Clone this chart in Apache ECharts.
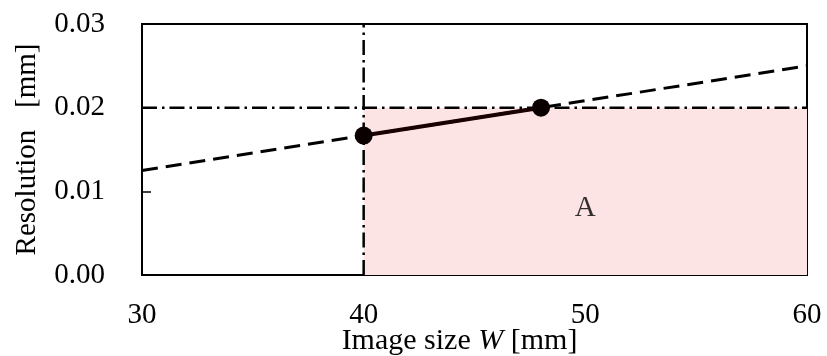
<!DOCTYPE html>
<html>
<head>
<meta charset="utf-8">
<script src="https://cdn.jsdelivr.net/npm/echarts@6/dist/echarts.min.js"></script>
<style>
  html, body { margin: 0; padding: 0; background: #fff; }
  #chart { width: 827px; height: 356px; }
</style>
</head>
<body>
<div id="chart"></div>
<script>
// resolution vs. image size
const trendW = [30, 60];            // dashed line: resolution = W / 2400
const trendRes = [0.0125, 0.025];
const rangeW = [40, 48];            // solid segment with end points
const rangeRes = [0.01667, 0.02];
const limitW = 40;                  // vertical dash-dot limit
const limitRes = 0.02;              // horizontal dash-dot limit
const areaW = [40, 60];             // shaded region A
const areaRes = [0.02, 0.02];
const labelA = [50, 0.008];
const xTicks = [30, 40, 50, 60];
const yTicks = [0, 0.01, 0.02, 0.03];

const FONT = '"Liberation Serif", "Times New Roman", serif';
const BLACK = '#000';

const pairs = (xs, ys) => xs.map((x, i) => [x, ys[i]]);

const chart = echarts.init(document.getElementById('chart'));
chart.setOption({
  animation: false,
  backgroundColor: '#fff',
  grid: {
    left: 142, right: 20, top: 24, bottom: 81,
    outerBoundsMode: 'none',
    containLabel: false,
    show: true, borderColor: BLACK, borderWidth: 2, backgroundColor: 'transparent'
  },
  xAxis: {
    type: 'value',
    min: xTicks[0], max: xTicks[xTicks.length - 1], interval: 10,
    name: 'Image size {i|W} [mm]',
    nameLocation: 'middle',
    nameGap: 51,
    nameMoveOverlap: false,
    nameTextStyle: {
      fontFamily: FONT, fontSize: 30, color: BLACK, padding: [0, 30, 0, 0],
      rich: { i: { fontFamily: FONT, fontSize: 30, fontStyle: 'italic', color: BLACK } }
    },
    axisLine: { lineStyle: { color: BLACK, width: 2 } },
    axisTick: { inside: true, length: 8, lineStyle: { color: BLACK, width: 1.5 } },
    axisLabel: { margin: 26, fontFamily: FONT, fontSize: 29, color: BLACK },
    splitLine: { show: false }
  },
  yAxis: {
    type: 'value',
    min: yTicks[0], max: yTicks[yTicks.length - 1], interval: 0.01,
    name: 'Resolution   [mm]',
    nameLocation: 'middle',
    nameGap: 100,
    nameMoveOverlap: false,
    nameTextStyle: { fontFamily: FONT, fontSize: 29, color: BLACK },
    axisLine: { lineStyle: { color: BLACK, width: 2 } },
    axisTick: { inside: true, length: 9, lineStyle: { color: BLACK, width: 1.5 } },
    axisLabel: {
      margin: 37, fontFamily: FONT, fontSize: 29, color: BLACK,
      formatter: v => v.toFixed(2)
    },
    splitLine: { show: false }
  },
  series: [
    {
      // shaded region A
      type: 'line',
      data: pairs(areaW, areaRes),
      symbol: 'none',
      lineStyle: { width: 0 },
      areaStyle: { color: '#fde4e4', opacity: 1 },
      z: 1
    },
    {
      // vertical limit
      type: 'line',
      data: [[limitW, yTicks[0]], [limitW, yTicks[yTicks.length - 1]]],
      symbol: 'none',
      lineStyle: { color: BLACK, width: 2.5, type: [15, 5, 2.5, 5] },
      z: 2
    },
    {
      // horizontal limit
      type: 'line',
      data: [[xTicks[0], limitRes], [xTicks[xTicks.length - 1], limitRes]],
      symbol: 'none',
      lineStyle: { color: BLACK, width: 2.5, type: [15, 5, 2.5, 5] },
      z: 2
    },
    {
      // trend
      type: 'line',
      data: pairs(trendW, trendRes),
      symbol: 'none',
      lineStyle: { color: BLACK, width: 3, type: [16, 8] },
      z: 3
    },
    {
      // achievable range
      type: 'line',
      data: pairs(rangeW, rangeRes),
      symbol: 'circle',
      symbolSize: 18,
      showSymbol: true,
      itemStyle: { color: '#0a0000' },
      lineStyle: { color: '#1a0000', width: 4 },
      z: 4
    },
    {
      type: 'scatter',
      data: [labelA],
      symbolSize: 0,
      label: {
        show: true, position: 'inside', formatter: 'A',
        fontFamily: FONT, fontSize: 29, color: BLACK
      },
      z: 5
    }
  ]
});
</script>
</body>
</html>
